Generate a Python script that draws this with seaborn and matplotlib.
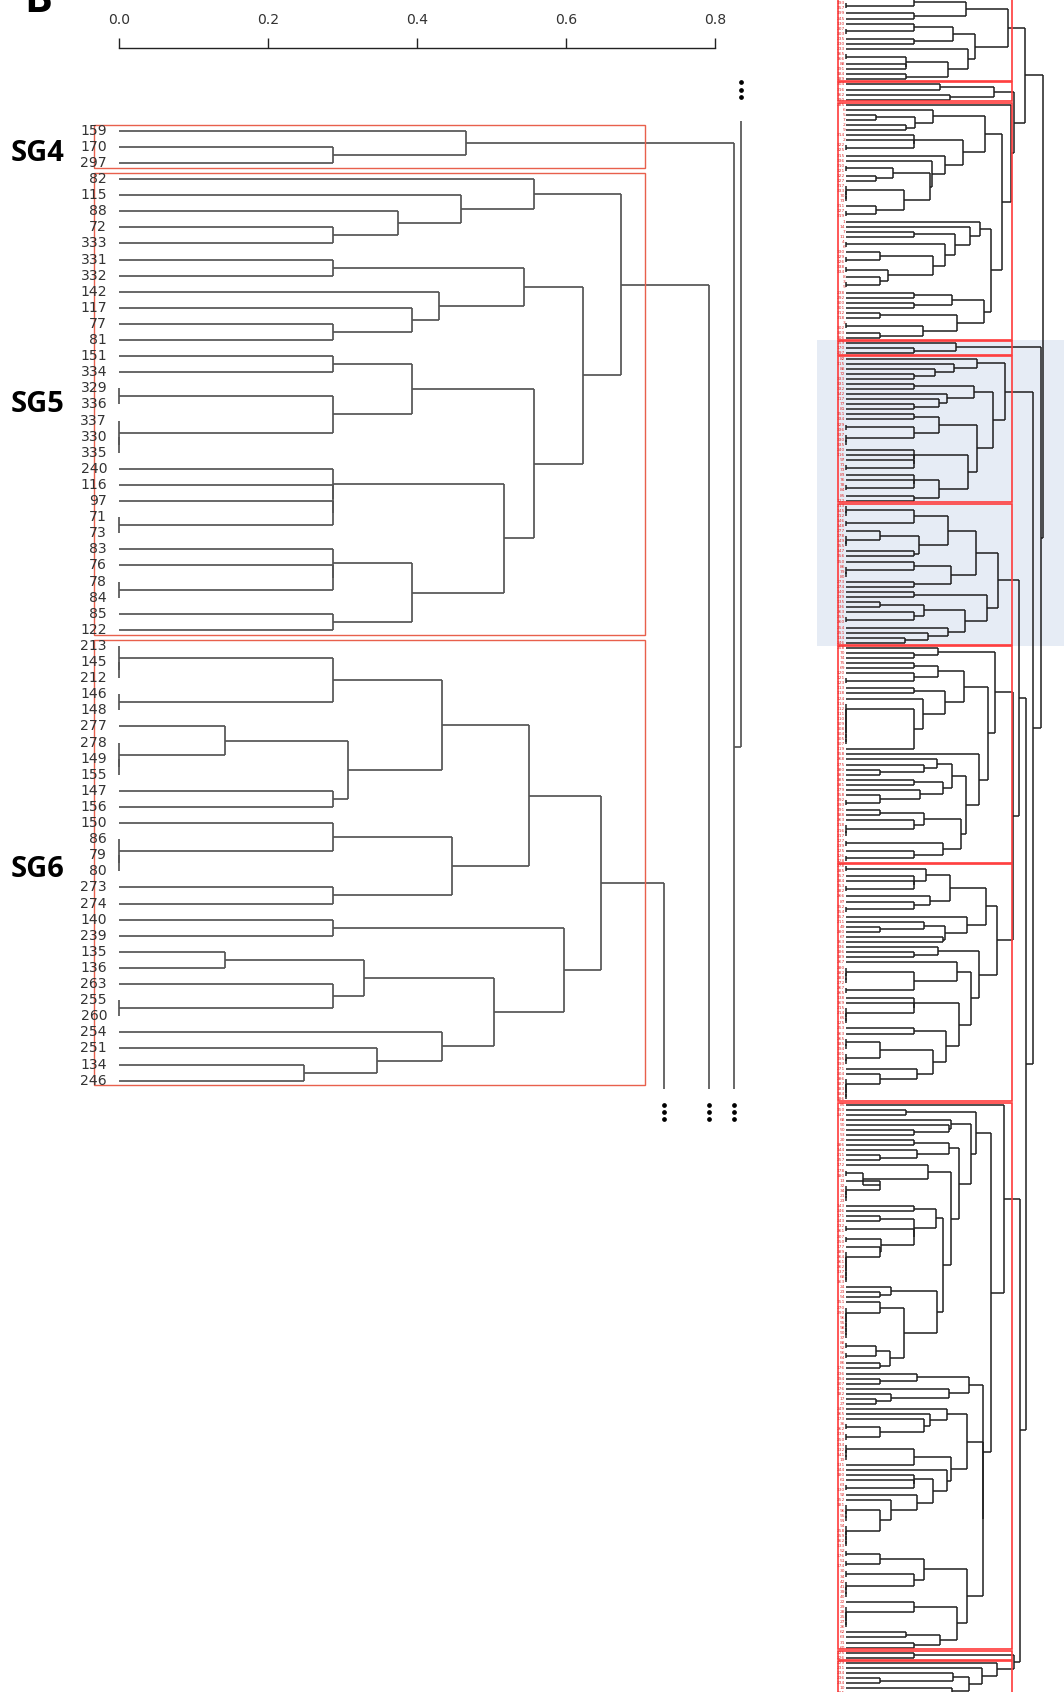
import numpy as np
import pandas as pd
import matplotlib
matplotlib.use("Agg")
import matplotlib.pyplot as plt
from matplotlib.patches import Rectangle
import seaborn as sns

# ---------------------------------------------------------------------------
# Cluster trees.  A node is [merge height, child, child, ...]; more than two
# children means successive merges at the same height.  Strings are sample ids.
# ---------------------------------------------------------------------------
SG4 = [0.466, "159", [0.287, "170", "297"]]

SG5 = [0.673,
       [0.557, "82", [0.459, "115", [0.375, "88", [0.287, "72", "333"]]]],
       [0.622,
        [0.543, [0.287, "331", "332"], [0.429, "142", [0.393, "117", [0.287, "77", "81"]]]],
        [0.557,
         [0.393, [0.287, "151", "334"], [0.287, [0.0, "329", "336"], [0.0, "337", "330", "335"]]],
         [0.517, [0.287, "240", "116", "97", [0.0, "71", "73"]],
          [0.393, [0.287, "83", "76", [0.0, "78", "84"]], [0.287, "85", "122"]]]]]]

SG6 = [0.646,
       [0.550,
        [0.434, [0.287, [0.0, "213", "145", "212"], [0.0, "146", "148"]],
         [0.308, [0.143, "277", [0.0, "278", "149", "155"]], [0.287, "147", "156"]]],
        [0.447, [0.287, "150", [0.0, "86", "79", "80"]], [0.287, "273", "274"]]],
       [0.597, [0.287, "140", "239"],
        [0.503, [0.329, [0.142, "135", "136"], [0.287, "263", [0.0, "255", "260"]]],
         [0.434, "254", [0.346, "251", [0.249, "134", "246"]]]]]]

BOX1 = [0.688,
        [0.508, [0.287, "196", [0.0, "193", "157"]], [0.287, "199", "245"]],
        [0.547,
         [0.455, [0.287, "130", [0.0, "207", "203"]], [0.287, "235", "230"]],
         [0.518, "233",
          [0.434, [0.254, [0.0, "165", "166"], "88", "191"], [0.254, "184", "189"]]]]]

BOX2 = [0.628, [0.398, "304", "316"], [0.440, "162", "290"]]

BOX3 = [0.698, "285",
        [0.660,
         [0.589,
          [0.370, "6", [0.292, [0.127, "5", "7"], [0.254, "2", "9"]]],
          [0.497,
           [0.287, "314", "2", [0.0, "322", "325"]],
           [0.420, "315",
            [0.363, "336",
             [0.355,
              [0.198, [0.0, "310", "321"], [0.127, "322", "327"]],
              [0.247, [0.0, "317", "333", "70", "73"], [0.127, "311", [0.0, "327", "319"]]]]]]]],
         [0.613,
          [0.569, "1", [0.525, "14", [0.460, [0.287, "7", "11"],
                                      [0.418, [0.0, "4", "6"],
                                       [0.370, [0.144, "330", [0.0, "329", "326"]],
                                        [0.179, [0.0, "338", "334"], [0.144, "8", [0.0, "3", "5"]]]]]]]],
          [0.586, [0.450, [0.287, "238", "292"], [0.287, "300", "301"]],
           [0.469, [0.144, "312", "318"], [0.327, [0.0, "3", "302"], [0.144, "303", "306"]]]]]]]

BOX_A = [0.631,
         [0.391, "258", [0.287, "70", "74"]],
         [0.600,
          [0.502,
           [0.391, [0.287, "75", "69"], [0.287, "120", [0.0, "121", "123"]]],
           [0.420, [0.287, "113", "118"],
            [0.328, "124", [0.287, [0.0, "114", "112", "111", "110", "109", "108", "104", "105", "107"], "119"]]]],
          [0.562, "158",
           [0.508,
            [0.450, [0.387, "268", [0.330, "275", [0.144, "280", "283"]]],
             [0.410, [0.287, "285", "281"], [0.313, "279", [0.144, "158", [0.0, "292", "293"]]]]],
            [0.486, [0.330, [0.144, "191", "188"], [0.287, "263", [0.0, "218", "216", "217"]]],
             [0.410, [0.0, "127", "239"], [0.287, "125", [0.0, "126", "128"]]]]]]]]

BOX_B = [0.641,
         [0.595,
          [0.440, [0.339, [0.0, "278", "285"], [0.287, "157", "284", [0.0, "153", "282"]]],
           [0.356, "266", [0.287, "87", [0.0, "152", "154"]]]],
          [0.511, "157", [0.420, [0.330, "211", [0.144, "49", "280"]], [0.410, "67", "163"]]]],
         [0.565,
          [0.390, "336", [0.287, "186", "189"]],
          [0.530,
           [0.470, "267", [0.287, [0.0, "280", "282", "283", "272"], [0.0, "267", "265"]]],
           [0.480, [0.287, "138", "169", [0.0, "215", "214", "65", "125"]],
            [0.425, [0.287, "253", "263"],
             [0.370, [0.144, [0.0, "265", "185", "194"], [0.0, "201", "195", "193"]],
              [0.300, "271", [0.144, "204", [0.0, "286", "187", "183", "184", "186"]]]]]]]]]

C_UPPER = [0.550, [0.254, "150", "247"],
           [0.531,
            [0.447, "68", [0.436, "90", [0.287, "50", "53"]]],
            [0.478,
             [0.436, [0.287, "20", "286"], [0.300, "144", [0.144, "211", "257"]]],
             [0.447,
              [0.348, "172", [0.070, [0.0, "178", "180"], [0.144, "13", [0.0, "32", "34", "21", "23"]]]],
              [0.410,
               [0.380, [0.287, "143", "246"],
                [0.287, [0.144, "171", "243"], [0.0, "232", "261"],
                 [0.147, [0.0, "207", "250"], [0.144, "177", [0.0, "289", "264", "261", "262", "137", "68", "163"]]]]],
               [0.385, [0.192, "24", [0.144, "23", "54"]],
                [0.246, [0.144, "151", [0.0, "270", "290", "96", "95", "98", "90", "37"]],
                 [0.187, [0.127, [0.0, "88", "52"], [0.0, "56", "64"]], [0.144, "86", "176"]]]]]]]]]

C_MID = [0.520, [0.300, "236", [0.144, "194", "207"]], [0.436, "176", [0.192, "182", [0.127, "17", "27"]]]]

C_LOW1 = [0.511, [0.430, "249", [0.355, "265", [0.330, "173", [0.144, [0.0, "36", "262"], [0.0, "233", "250"]]]]],
          [0.445, [0.287, [0.0, "234", "132", "141", "19"], "131"],
           [0.430, "244", [0.370, [0.287, "180", "61", [0.0, "63", "130"]],
                           [0.300, "92", [0.190, "252", [0.144, [0.0, "181", "96", "95", "91"],
                                                          [0.0, "94", "258", "259", "162", "133"]]]]]]]]

C_LOW2 = [0.511, [0.330, [0.144, [0.0, "52", "176"], [0.0, "51", "174"]], [0.287, [0.0, "30", "34"], [0.0, "42", "41", "39", "40"]]],
          [0.469, [0.287, "22", [0.0, "29", "28", "25", "27", "26"]], [0.400, [0.254, "62", "63"], [0.287, "31", "60"]]]]

BOX_C = [0.671, "85", [0.613, C_UPPER, [0.579, C_MID, C_LOW1, C_LOW2]]]

BOX_D = [0.287, "225", "226"]

BOX_E = [0.641, "229", [0.575, "231", [0.522, [0.452, "234", [0.144, "236", "234"]], [0.450, "10", "215"]]]]

# upper levels of the full tree
TOP = [0.760, BOX1, [0.713, BOX2, BOX3]]
LOWER = [0.737, BOX_C, [0.713, BOX_D, BOX_E]]
MID = [0.761, [0.731, SG6, [0.709, BOX_A, BOX_B]], LOWER]
ROOT = [0.834, TOP, [0.825, SG4, [0.792, SG5, MID]]]

# groups in leaf order (each gets a red rectangle)
GROUPS = [BOX1, BOX2, BOX3, SG4, SG5, SG6, BOX_A, BOX_B, BOX_C, BOX_D, BOX_E]
SG_NAMES = ["SG4", "SG5", "SG6"]
SG_LABEL_SHIFT = [0.0, -0.4, 0.0]
TICKS = [0.0, 0.2, 0.4, 0.6, 0.8]


def n_leaves(node):
    return 1 if isinstance(node, str) else sum(n_leaves(c) for c in node[1:])


def build(node, leaves, segs):
    """Lay out a tree: leaves top to bottom, merge height along x."""
    if isinstance(node, str):
        leaves.append(node)
        return 0.0, float(len(leaves) - 1)
    h = node[0]
    parts = [build(c, leaves, segs) for c in node[1:]]
    ch, cy = parts[-1]
    for ph, py in reversed(parts[:-1]):
        segs.append((ph, py, h, py))
        segs.append((ch, cy, h, cy))
        segs.append((h, py, h, cy))
        ch, cy = h, (py + cy) / 2
    return h, cy


def seg_frame(segs):
    rows = []
    for i, (x0, y0, x1, y1) in enumerate(segs):
        if x0 == x1 and y0 == y1:
            continue
        rows.append((i, x0, y0))
        rows.append((i, x1, y1))
    return pd.DataFrame(rows, columns=["seg", "x", "y"])


def clip(segs, lo, hi):
    out, top_ends, bot_ends = [], [], []
    for x0, y0, x1, y1 in segs:
        if y0 == y1:
            if lo <= y0 <= hi:
                out.append((x0, y0, x1, y1))
            continue
        a, b = min(y0, y1), max(y0, y1)
        if b < lo or a > hi:
            continue
        if a < lo:
            top_ends.append(x0)
            a = lo
        if b > hi:
            bot_ends.append(x0)
            b = hi
        out.append((x0, a, x0, b))
    return out, top_ends, bot_ends


leaves, segs = [], []
build(ROOT, leaves, segs)

sizes = [n_leaves(g) for g in GROUPS]
starts = np.concatenate([[0], np.cumsum(sizes)[:-1]])
g0 = starts[3]                      # first leaf of SG4
n_sg = sizes[3] + sizes[4] + sizes[5]

sns.set_theme(style="white")
plt.rcParams["font.family"] = ["DejaVu Sans"]

fig = plt.figure(figsize=(10.64, 16.92), dpi=100)
fig.patch.set_facecolor("white")

BOX_X = (-0.033, 0.705)

# ---------------------------- left: enlarged SG4-SG6 -------------------------
ax = fig.add_axes([0, 0, 760 / 1064, 1])
ax.set_facecolor("none")
win_lo, win_hi = g0 - 0.6, g0 + n_sg - 1 + 0.52
lsegs, top_ends, bot_ends = clip(segs, win_lo, win_hi)
sns.lineplot(data=seg_frame(lsegs), x="x", y="y", units="seg", estimator=None, sort=False,
             color="#555555", linewidth=1.25, solid_capstyle="butt", ax=ax, legend=False)

for gi in range(3, 6):
    s, n = starts[gi], sizes[gi]
    ax.add_patch(Rectangle((BOX_X[0], s - 0.37), BOX_X[1] - BOX_X[0], n - 1 + 0.67,
                           fill=False, edgecolor="#e8604c", linewidth=1.0, zorder=3))
    ax.text(-0.1444, s + (n - 1) / 2 + 0.88 + SG_LABEL_SHIFT[gi - 3], SG_NAMES[gi - 3],
            fontsize=21, fontweight="bold", family=["Open Sans", "DejaVu Sans"],
            ha="left", va="baseline", color="black")

for i in range(n_sg):
    ax.text(-0.0155, g0 + i, leaves[g0 + i], ha="right", va="center", fontsize=10.1, color="#333333")

for x in top_ends:
    ax.plot([x] * 3, g0 + np.array([-3.04, -2.54, -2.1]), "o", ms=2.4, color="black")
for x in bot_ends:
    ax.plot([x] * 3, g0 + n_sg - 1 + np.array([1.5, 1.95, 2.4]), "o", ms=2.4, color="black")

ax.text(-0.127, g0 - 7.37, "B", fontsize=30, fontweight="bold", family=["Open Sans", "DejaVu Sans"],
        ha="left", va="baseline", color="black", clip_on=False)

# distance ruler on the top spine
ax.set_xlim(-0.1591, 0.8597)
ax.set_ylim(g0 + 96.97, g0 - 8.118)
for side in ["left", "right", "bottom"]:
    ax.spines[side].set_visible(False)
ax.spines["top"].set_visible(True)
ax.spines["top"].set_position(("data", g0 - 5.137))
ax.spines["top"].set_bounds(0, 0.8)
ax.spines["top"].set_color("#222222")
ax.spines["top"].set_linewidth(1.0)
ax.xaxis.set_ticks_position("top")
ax.set_xticks(TICKS)
ax.set_xticklabels([f"{t:.1f}" for t in TICKS])
ax.tick_params(axis="x", direction="out", length=7.2, width=1.0, color="#222222",
               labelsize=10.1, labelcolor="#333333", pad=8)
ax.set_yticks([])
ax.set_xlabel("")
ax.set_ylabel("")

# ---------------------------- right: whole tree ------------------------------
ax2 = fig.add_axes([760 / 1064, 0, 304 / 1064, 1])
ax2.set_facecolor("none")
ax2.add_patch(Rectangle((-0.124, g0 - 0.65), 1.2, n_sg - 1 + 1.3, facecolor="#e6ecf5",
                        edgecolor="none", zorder=0))
sns.lineplot(data=seg_frame(segs), x="x", y="y", units="seg", estimator=None, sort=False,
             color="#1f1f1f", linewidth=1.1, solid_capstyle="butt", ax=ax2, legend=False)
for s, n in zip(starts, sizes):
    ax2.add_patch(Rectangle((BOX_X[0], s - 0.4), BOX_X[1] - BOX_X[0], n - 1 + 0.75,
                            fill=False, edgecolor="#ff3b3b", linewidth=1.2, zorder=3))
for i, lab in enumerate(leaves):
    ax2.text(-0.004, i, lab, ha="right", va="center", fontsize=3.2, color="#e03030")

ax2.set_xlim(-0.3644, 0.9237)
ax2.set_ylim(333.75, 0.3547)
ax2.axis("off")

fig.savefig("out.png", dpi=100, facecolor="white")
